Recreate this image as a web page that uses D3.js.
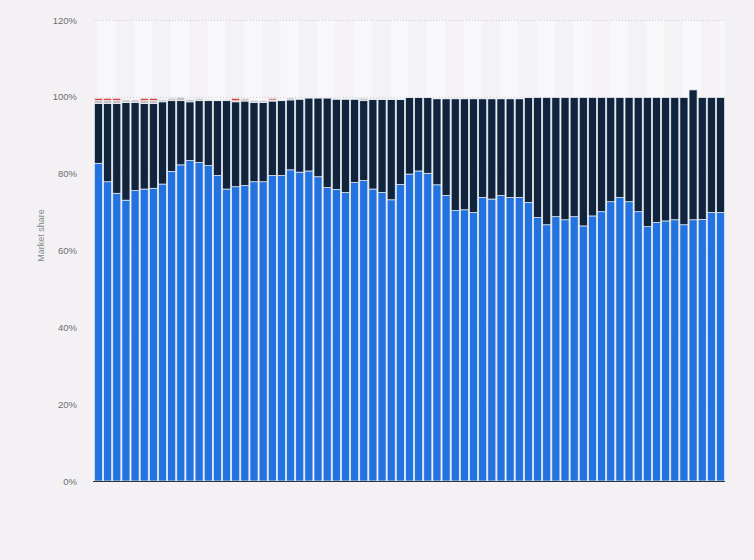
<!DOCTYPE html>
<html>
<head>
    <meta charset="utf-8">
    <title>Market share</title>
    <script src="https://d3js.org/d3.v7.min.js"></script>
    <style>
        body { margin: 0; background: #f3f1f4; }
        svg { display: block; font-family: "Liberation Sans", Arial, sans-serif; }
    </style>
</head>
<body>
    <svg id="chart"></svg>
    <script>
        // shares in percent, bottom to top
        const seriesA = [82.7, 77.9, 74.9, 73.1, 75.6, 76.0, 76.2, 77.3, 80.6, 82.3,
            83.4, 82.9, 82.1, 79.5, 76.0, 76.6, 76.9, 77.9, 77.9, 79.5,
            79.5, 81.0, 80.4, 80.7, 79.2, 76.4, 75.9, 75.1, 77.7, 78.2,
            76.0, 75.1, 73.2, 77.2, 79.9, 80.7, 80.1, 77.1, 74.3, 70.4,
            70.6, 69.9, 73.8, 73.4, 74.3, 73.8, 73.8, 72.5, 68.6, 66.7,
            68.8, 68.0, 68.8, 66.4, 69.0, 70.1, 72.7, 73.8, 72.7, 70.1,
            66.2, 67.3, 67.7, 68.0, 66.7, 68.0, 68.1, 69.9, 69.9];
        const seriesB = [15.6, 20.4, 23.4, 25.4, 22.9, 22.3, 22.1, 21.4, 18.4, 16.7,
            15.3, 16.1, 16.9, 19.5, 23.0, 22.1, 22.0, 20.6, 20.6, 19.4,
            19.5, 18.2, 19.0, 19.0, 20.5, 23.3, 23.5, 24.3, 21.7, 20.8,
            23.3, 24.2, 26.1, 22.1, 19.9, 19.1, 19.7, 22.4, 25.2, 29.1,
            28.9, 29.6, 25.7, 26.1, 25.2, 25.7, 25.7, 27.3, 31.2, 33.1,
            31.0, 31.8, 31.0, 33.4, 30.8, 29.7, 27.1, 26.0, 27.1, 29.7,
            33.6, 32.5, 32.1, 31.8, 33.1, 33.8, 31.7, 29.9, 29.9];
        const seriesC = [0.8, 0.8, 0.8, 0.7, 0.7, 0.8, 0.8, 0.5, 0.6, 0.9,
            0.6, 0.5, 0.3, 0.2, 0.3, 0.3, 0.6, 0.5, 0.5, 0.3,
            0.2, 0.5, 0.2, 0.1, 0.1, 0.2, 0.2, 0.2, 0.2, 0.6,
            0.2, 0.2, 0.2, 0.1, 0.1, 0.1, 0.1, 0.1, 0.1, 0.1,
            0.1, 0.1, 0.1, 0.1, 0.1, 0.1, 0.1, 0.1, 0, 0,
            0, 0, 0, 0, 0, 0, 0, 0, 0, 0,
            0, 0, 0, 0, 0, 0, 0, 0, 0];
        const seriesD = [0.5, 0.5, 0.5, 0, 0, 0.5, 0.5, 0, 0, 0,
            0, 0, 0, 0, 0, 0.6, 0, 0, 0, 0.4,
            0, 0, 0, 0, 0, 0, 0, 0, 0, 0,
            0, 0, 0, 0, 0, 0, 0, 0, 0, 0,
            0, 0, 0, 0, 0, 0, 0, 0, 0, 0,
            0, 0, 0, 0, 0, 0, 0, 0, 0, 0,
            0, 0, 0, 0, 0, 0, 0, 0, 0];
        const categories = seriesA.map((_, i) => i + 1);
        const seriesKeys = ["a", "b", "c", "d"];
        const seriesColors = ["#2272e0", "#10243e", "#c4c3c8", "#d8332c"];
        const yTicks = [0, 20, 40, 60, 80, 100, 120];

        const svgWidth = 754;
        const svgHeight = 560;
        const margin = { top: 20, right: 29, bottom: 79, left: 94 };
        const width = svgWidth - margin.left - margin.right;
        const height = svgHeight - margin.top - margin.bottom;

        const svg = d3.select("#chart")
            .attr("width", svgWidth)
            .attr("height", svgHeight)
            .append("g")
            .attr("transform", `translate(${margin.left}, ${margin.top})`);

        const rows = categories.map((c, i) => ({
            cat: c, a: seriesA[i], b: seriesB[i], c: seriesC[i], d: seriesD[i]
        }));
        const stacked = d3.stack().keys(seriesKeys)(rows);

        const x = d3.scaleBand()
            .domain(categories)
            .range([0, width])
            .paddingInner(0.12)
            .paddingOuter(0.05);

        const y = d3.scaleLinear()
            .domain([0, 120])
            .range([height, 0]);

        // alternating background bands, one per pair of bars
        const pairs = categories.filter((c, i) => i % 2 === 0);
        const bandX = d => x(d) - x.step() * x.paddingInner() / 2 + x.step() * 0.4;
        svg.append("g")
            .selectAll("rect")
            .data(pairs)
            .join("rect")
            .attr("x", bandX)
            .attr("y", 0)
            .attr("width", d => Math.max(0, Math.min(x.step() * 2, width - bandX(d))))
            .attr("height", height)
            .attr("fill", (d, i) => i % 2 === 0 ? "#f8f7f9" : "#f4f2f5");

        // dotted grid
        svg.append("g")
            .selectAll("line")
            .data(yTicks)
            .join("line")
            .attr("x1", 0)
            .attr("x2", width)
            .attr("y1", d => y(d) + 0.5)
            .attr("y2", d => y(d) + 0.5)
            .attr("stroke", "#cfcdd2")
            .attr("stroke-dasharray", "1,2");

        svg.append("g")
            .selectAll("g")
            .data(stacked)
            .join("g")
            .attr("fill", (d, i) => seriesColors[i])
            .selectAll("rect")
            .data(d => d.filter(p => p[1] - p[0] > 0))
            .join("rect")
            .attr("x", d => x(d.data.cat))
            .attr("y", d => y(d[1]))
            .attr("width", x.bandwidth())
            .attr("height", d => y(d[0]) - y(d[1]))
            .attr("stroke", "#eef1f6")
            .attr("stroke-width", 0.7);

        const yAxis = svg.append("g")
            .call(d3.axisLeft(y).tickValues(yTicks).tickFormat(d => d + "%").tickSize(0).tickPadding(17));
        yAxis.select(".domain").remove();
        yAxis.selectAll("text")
            .attr("fill", "#6e6e6e")
            .style("font-size", "9.5px");

        svg.append("line")
            .attr("x1", -1)
            .attr("x2", width)
            .attr("y1", height + 0.5)
            .attr("y2", height + 0.5)
            .attr("stroke", "#333")
            .attr("stroke-width", 1);

        svg.append("text")
            .attr("transform", "rotate(-90)")
            .attr("x", -height / 2 + 15)
            .attr("y", -margin.left + 44)
            .style("text-anchor", "middle")
            .style("font-size", "9px")
            .attr("fill", "#8a8a8a")
            .text("Market share");
    </script>
</body>
</html>
